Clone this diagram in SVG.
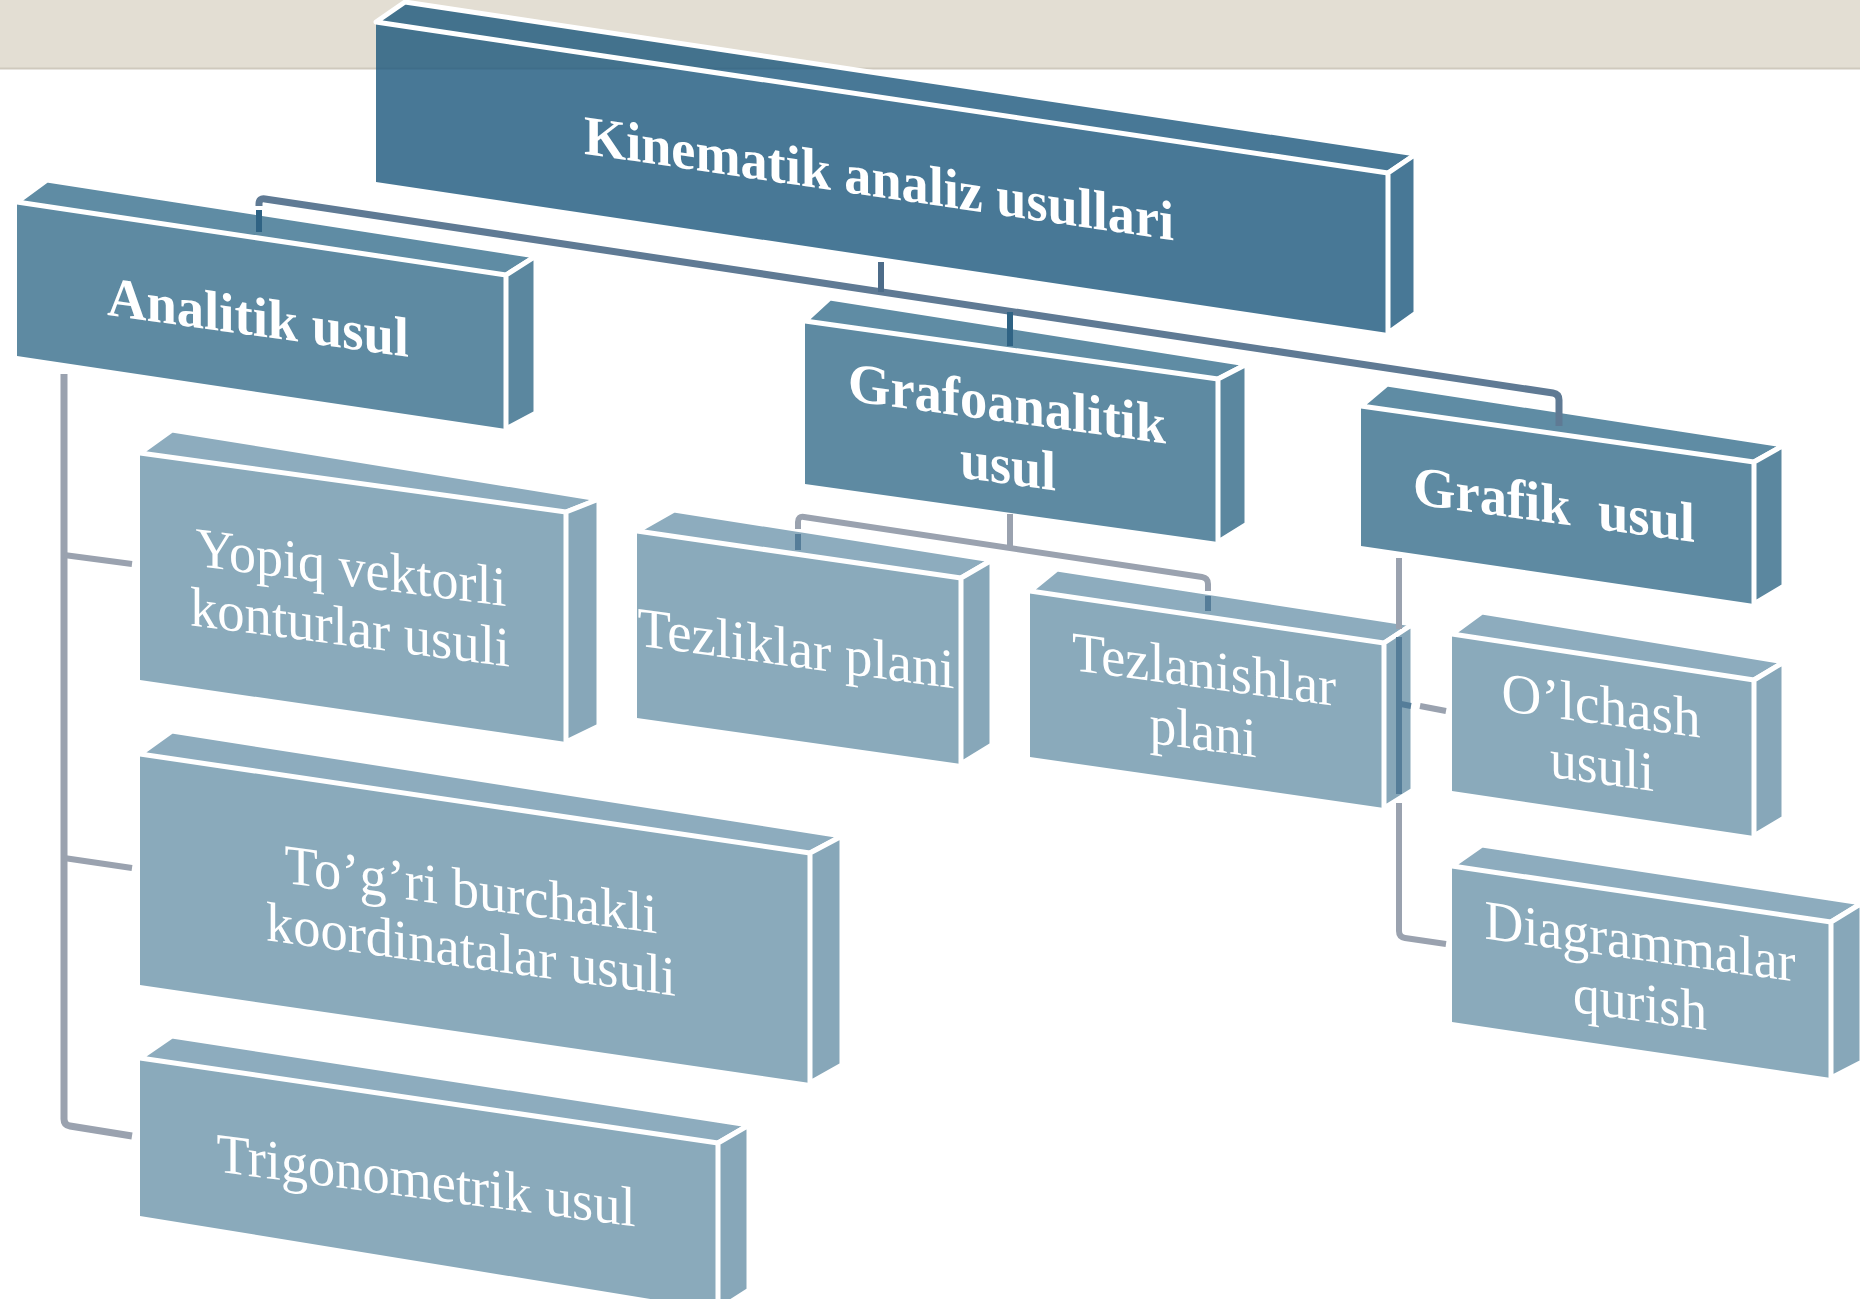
<svg xmlns="http://www.w3.org/2000/svg" width="1860" height="1299" viewBox="0 0 1860 1299">
<style>
.f1{fill:#1A567C;fill-opacity:0.8}
.f2{fill:#5E8AA2}.t2{fill:#5F8CA4}.s2{fill:#5B879F}
.f3{fill:#8AAABB}.t3{fill:#8DACBE}.s3{fill:#87A7B9}
.edge{stroke:#fff;stroke-width:5;stroke-linejoin:round}
.lbl{font-family:"Liberation Serif","Times New Roman",serif;font-size:56px;fill:#fff;text-anchor:middle}
.b{font-weight:bold}
.cm{fill:none;stroke:#5F7A94;stroke-width:7;stroke-linecap:butt}
.cg{fill:none;stroke:#9AA2AF;stroke-width:6}
.cd{fill:none;stroke:#2F6384;stroke-width:6}
.cl{fill:none;stroke:#557D99;stroke-width:6}
</style>
<rect x="0" y="0" width="1860" height="68" fill="#E3DED3"/>
<line x1="0" y1="68.5" x2="1860" y2="68.5" stroke="#CFC9BD" stroke-width="2"/>

<g id="boxes">
<g id="n-main">
<polygon class="f1" points="376,22 1388,173 1388,333 376,182"/>
<polygon class="f1 edge" points="376,22 405,2 1416,154 1388,173"/>
<polygon class="f1 edge" points="1388,173 1416,154 1416,313 1388,333"/>
<text class="lbl b" transform="translate(879,197) skewY(8.36)" textLength="590" lengthAdjust="spacingAndGlyphs">Kinematik analiz usullari</text>
</g>
<g id="n-analitik">
<polygon class="f2" points="17,202 506,275 506,429 17,356"/>
<polygon class="t2 edge" points="17,202 47,180 536,256 506,275"/>
<polygon class="s2 edge" points="506,275 536,256 536,413 506,429"/>
<text class="lbl b" transform="translate(258,336) skewY(7.9)" textLength="302" lengthAdjust="spacingAndGlyphs">Analitik usul</text>
</g>
<g id="n-grafoanalitik">
<polygon class="f2" points="805,321 1218,379 1218,542 805,484"/>
<polygon class="t2 edge" points="805,321 830,298 1247,364 1218,379"/>
<polygon class="s2 edge" points="1218,379 1247,364 1247,524 1218,542"/>
<text class="lbl b" transform="translate(1007,422) skewY(7.7)" textLength="318" lengthAdjust="spacingAndGlyphs">Grafoanalitik</text>
<text class="lbl b" transform="translate(1008,484) skewY(7.7)" textLength="96" lengthAdjust="spacingAndGlyphs">usul</text>
</g>
<g id="n-grafik">
<polygon class="f2" points="1361,406 1754,462 1754,604 1361,546"/>
<polygon class="t2 edge" points="1361,406 1387,384 1784,445 1754,462"/>
<polygon class="s2 edge" points="1754,462 1784,445 1784,586 1754,604"/>
<text class="lbl b" transform="translate(1554,523) skewY(7.7)" textLength="282" lengthAdjust="spacingAndGlyphs" xml:space="preserve">Grafik  usul</text>
</g>
<g id="n-yopiq">
<polygon class="f3" points="140,453 566,512 566,742 140,680"/>
<polygon class="t3 edge" points="140,453 172,430 599,499 566,512"/>
<polygon class="s3 edge" points="566,512 599,499 599,726 566,742"/>
<text class="lbl" transform="translate(351,586) skewY(7.4)" textLength="311" lengthAdjust="spacingAndGlyphs">Yopiq vektorli</text>
<text class="lbl" transform="translate(350,646) skewY(7.4)" textLength="320" lengthAdjust="spacingAndGlyphs">konturlar usuli</text>
</g>
<g id="n-togri">
<polygon class="f3" points="140,754 810,853 810,1083 140,985"/>
<polygon class="t3 edge" points="140,754 172,731 842,836 810,853"/>
<polygon class="s3 edge" points="810,853 842,836 842,1065 810,1083"/>
<text class="lbl" transform="translate(471,908) skewY(7.7)" textLength="373" lengthAdjust="spacingAndGlyphs">To’g’ri burchakli</text>
<text class="lbl" transform="translate(471,968) skewY(7.7)" textLength="410" lengthAdjust="spacingAndGlyphs">koordinatalar usuli</text>
</g>
<g id="n-trig">
<polygon class="f3" points="140,1058 718,1143 718,1310 140,1216"/>
<polygon class="t3 edge" points="140,1058 172,1036 749,1125 718,1143"/>
<polygon class="s3 edge" points="718,1143 749,1125 749,1290 718,1310"/>
<text class="lbl" transform="translate(426,1199) skewY(7.46)" textLength="419" lengthAdjust="spacingAndGlyphs">Trigonometrik usul</text>
</g>
<g id="n-tezliklar">
<polygon class="f3" points="637,531 961,578 961,764 637,718"/>
<polygon class="t3 edge" points="637,531 674,510 992,560 961,578"/>
<polygon class="s3 edge" points="961,578 992,560 992,745 961,764"/>
<text class="lbl" transform="translate(796,667) skewY(7.7)" textLength="317" lengthAdjust="spacingAndGlyphs">Tezliklar plani</text>
</g>
<g id="n-tezlanishlar">
<polygon class="f3" points="1030,591 1384,643 1384,808 1030,757"/>
<polygon class="t3 edge" points="1030,591 1057,569 1413,624 1384,643"/>
<polygon class="s3 edge" points="1384,643 1413,624 1413,790 1384,808"/>
<text class="lbl" transform="translate(1204,688) skewY(7.75)" textLength="264" lengthAdjust="spacingAndGlyphs">Tezlanishlar</text>
<text class="lbl" transform="translate(1203,750) skewY(7.75)" textLength="107" lengthAdjust="spacingAndGlyphs">plani</text>
</g>
<g id="n-olchash">
<polygon class="f3" points="1452,634 1754,680 1754,836 1452,791"/>
<polygon class="t3 edge" points="1452,634 1482,612 1784,662 1754,680"/>
<polygon class="s3 edge" points="1754,680 1784,662 1784,818 1754,836"/>
<text class="lbl" transform="translate(1601,724) skewY(7.7)" textLength="199" lengthAdjust="spacingAndGlyphs">O’lchash</text>
<text class="lbl" transform="translate(1602,784) skewY(7.7)" textLength="104" lengthAdjust="spacingAndGlyphs">usuli</text>
</g>
<g id="n-diagrammalar">
<polygon class="f3" points="1452,866 1831,922 1831,1078 1452,1022"/>
<polygon class="t3 edge" points="1452,866 1482,845 1862,903 1831,922"/>
<polygon class="s3 edge" points="1831,922 1862,903 1862,1062 1831,1078"/>
<text class="lbl" transform="translate(1640,960) skewY(7.86)" textLength="311" lengthAdjust="spacingAndGlyphs">Diagrammalar</text>
<text class="lbl" transform="translate(1640,1021) skewY(7.86)" textLength="134" lengthAdjust="spacingAndGlyphs">qurish</text>
</g>
</g>

<g id="connectors">
<path class="cm" d="M259,206 V204 Q259,198 265,199 L1553,393 Q1559,394 1559,400 V426"/>
<path class="cd" d="M259,210 V232"/>
<path class="cm" d="M881,262 V292" style="stroke:#4D6C89;stroke-width:6"/>
<path class="cd" d="M1010,312 V346"/>
<path class="cg" d="M798,529 V522 Q798,516 804,517 L1202,577 Q1208,578 1208,584 V591"/>
<path class="cg" d="M1010,514 V547"/>
<path class="cl" d="M798,534 V550"/>
<path class="cl" d="M1208,596 V611"/>
<path class="cg" d="M1399,558 V629"/>
<path class="cl" d="M1399,637 V794"/>
<path class="cg" d="M1399,803 V931 Q1399,937 1405,938 L1446,944"/>
<path class="cl" d="M1401,704 L1411,706"/>
<path class="cg" d="M1420,706 L1446,711"/>
<path class="cg" d="M64,374 V1119 Q64,1125 70,1126 L132,1136" style="stroke-width:7"/>
<path class="cg" d="M64,555 L132,564"/>
<path class="cg" d="M64,858 L132,868"/>
</g>
</svg>
